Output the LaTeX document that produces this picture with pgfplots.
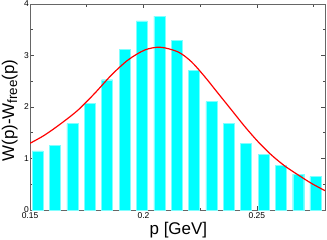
\documentclass[border=0pt]{standalone}
\usepackage{pgfplots}
\pgfplotsset{compat=1.18}
\usepackage{fontspec}
\setmainfont{Liberation Sans}
\definecolor{aqua}{RGB}{0,255,255}
\definecolor{pred}{RGB}{255,0,0}
\begin{document}
\begin{tikzpicture}
\begin{axis}[
  scale only axis, width=295bp, height=206bp,
  xmin=0.15, xmax=0.28, ymin=0, ymax=4,
  axis line style={black!60, line width=0.8pt},
  xtick={0.15,0.2,0.25}, xticklabels={0.15,0.2,0.25},
  minor xtick={0.175,0.225,0.275},
  ytick={0,1,2,3,4}, minor ytick={0.5,1.5,2.5,3.5},
  tick align=inside, xtick pos=both, ytick pos=both,
  tick style={black!70, line width=0.6pt},
  major tick length=4bp, minor tick length=2.5bp,
  /pgf/number format/assume math mode=true,
  ticklabel style={font=\fontsize{8.5}{9}\selectfont, inner sep=1bp},
  xticklabel style={yshift=-1bp},
  xlabel={p [GeV]},
  ylabel={W(p)-W\raisebox{-0.35ex}{\fontsize{13.5}{14}\selectfont free}(p)},
  label style={font=\fontsize{17}{18}\selectfont},
  xlabel style={at={(axis description cs:0.503,-0.097)}, anchor=center},
  ylabel style={at={(axis description cs:-0.069,0.483)}, anchor=center, rotate=0},
]
\addplot[ybar, bar width=0.00485, bar shift=0pt, fill=aqua, draw=aqua!50] coordinates {
(0.1534,1.146) (0.1611,1.262) (0.1687,1.676) (0.1764,2.071) (0.1840,2.530)
(0.1917,3.126) (0.1993,3.670) (0.2070,3.767) (0.2146,3.288) (0.2223,2.705)
(0.2299,2.103) (0.2376,1.676) (0.2452,1.288) (0.2529,1.081) (0.2605,0.868)
(0.2682,0.699) (0.2758,0.647)};
\addplot[pred, line width=1.2pt, smooth] coordinates {
(0.1500,1.295) (0.1565,1.456) (0.1638,1.683) (0.1712,1.942) (0.1785,2.265)
(0.1859,2.621) (0.1932,2.913) (0.2006,3.107) (0.2075,3.160) (0.2153,3.068)
(0.2211,2.880) (0.2270,2.589) (0.2329,2.265) (0.2388,1.942) (0.2447,1.618)
(0.2505,1.326) (0.2564,1.068) (0.2623,0.854) (0.2682,0.680) (0.2740,0.518)
(0.2800,0.375)};
\end{axis}
\pgfresetboundingbox
\path[use as bounding box] ([xshift=-30bp,yshift=-30bp]current axis.south west) rectangle ([xshift=2bp,yshift=4bp]current axis.north east);
\end{tikzpicture}
\end{document}
